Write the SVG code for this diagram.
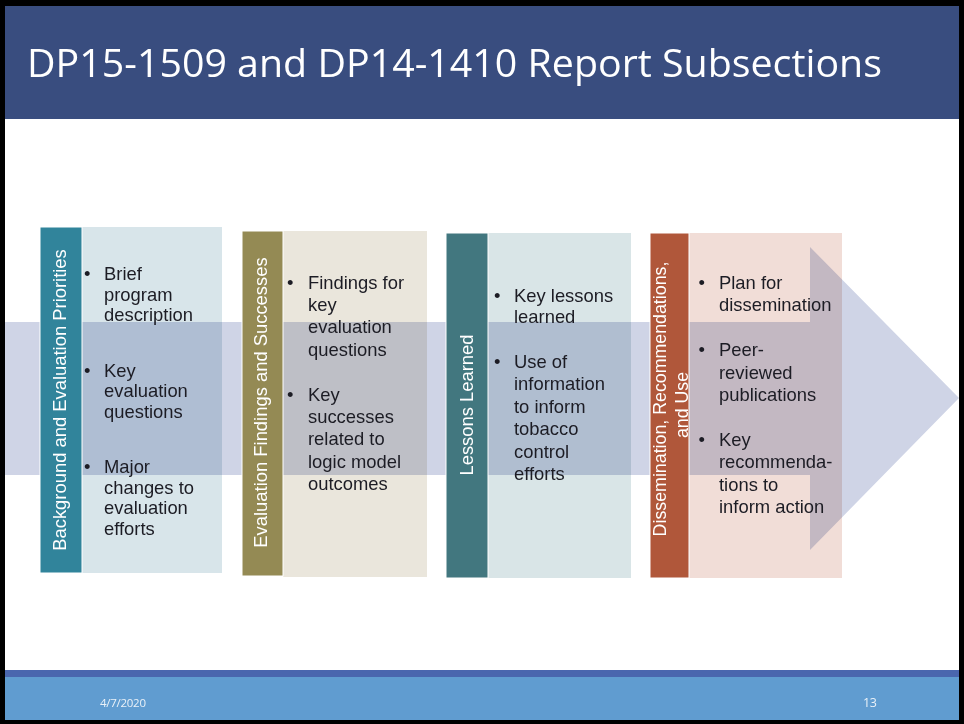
<svg xmlns="http://www.w3.org/2000/svg" width="964" height="724" viewBox="0 0 964 724">
<style>
.t{font-family:"Liberation Sans",Arial,sans-serif;font-size:18.4px;fill:#1c1c24}
.v{font-family:"Liberation Sans",Arial,sans-serif;font-size:18.4px;fill:#ffffff;text-anchor:middle}
.p{mix-blend-mode:multiply}
.bar{stroke:#ffffff;stroke-width:1}
.f{font-family:"Open Sans","Liberation Sans",sans-serif;font-size:11.5px;fill:#eaf1f8}
</style>
<rect x="0" y="0" width="964" height="724" fill="#000000"/>
<rect x="5" y="6" width="954" height="714" fill="#ffffff"/>
<g id="header">
<rect x="5" y="6" width="954" height="113" fill="#394d7f"/>
<text x="27" y="77" font-family="'Open Sans','Liberation Sans',sans-serif" font-size="38" fill="#ffffff" textLength="855" lengthAdjust="spacingAndGlyphs">DP15-1509 and DP14-1410 Report Subsections</text>
</g>
<g id="connectors">
<polygon points="5,322 810,322 810,247 959,398 810,550 810,475 5,475" fill="#cfd4e6"/>
</g>
<g id="node1">
<rect class="p" x="82" y="227" width="140" height="346" fill="#d8e5ea"/>
<rect class="bar" x="40" y="227" width="42" height="346" fill="#31849b"/>
<text class="v" transform="translate(66,400) rotate(-90)">Background and Evaluation Priorities</text>
<text class="t" x="84" y="280">•</text>
<text class="t" x="104" y="280">Brief</text>
<text class="t" x="104" y="300.5">program</text>
<text class="t" x="104" y="321">description</text>
<text class="t" x="84" y="376.5">•</text>
<text class="t" x="104" y="376.5">Key</text>
<text class="t" x="104" y="397">evaluation</text>
<text class="t" x="104" y="417.5">questions</text>
<text class="t" x="84" y="473">•</text>
<text class="t" x="104" y="473">Major</text>
<text class="t" x="104" y="493.5">changes to</text>
<text class="t" x="104" y="514">evaluation</text>
<text class="t" x="104" y="534.5">efforts</text>
</g>
<g id="node2">
<rect class="p" x="283" y="231" width="144" height="346" fill="#eae6dc"/>
<rect class="bar" x="242" y="231" width="41" height="345" fill="#948a54"/>
<text class="v" transform="translate(267,402.5) rotate(-90)">Evaluation Findings and Successes</text>
<text class="t" x="287" y="288.5">•</text>
<text class="t" x="308" y="288.5">Findings for</text>
<text class="t" x="308" y="310.9">key</text>
<text class="t" x="308" y="333.3">evaluation</text>
<text class="t" x="308" y="355.7">questions</text>
<text class="t" x="287" y="400.5">•</text>
<text class="t" x="308" y="400.5">Key</text>
<text class="t" x="308" y="422.9">successes</text>
<text class="t" x="308" y="445.3">related to</text>
<text class="t" x="308" y="467.7">logic model</text>
<text class="t" x="308" y="490.1">outcomes</text>
</g>
<g id="node3">
<rect class="p" x="488" y="233" width="143" height="345" fill="#d9e5e7"/>
<rect class="bar" x="446" y="233" width="42" height="345" fill="#42777f"/>
<text class="v" transform="translate(473,405) rotate(-90)">Lessons Learned</text>
<text class="t" x="494" y="301.5">•</text>
<text class="t" x="514" y="301.5">Key lessons</text>
<text class="t" x="514" y="323">learned</text>
<text class="t" x="494" y="368">•</text>
<text class="t" x="514" y="368">Use of</text>
<text class="t" x="514" y="390.4">information</text>
<text class="t" x="514" y="412.8">to inform</text>
<text class="t" x="514" y="435.2">tobacco</text>
<text class="t" x="514" y="457.6">control</text>
<text class="t" x="514" y="480">efforts</text>
</g>
<g id="node4">
<rect class="p" x="689" y="233" width="153" height="345" fill="#f1ddd7"/>
<rect class="bar" x="650" y="233" width="39" height="345" fill="#b0573a"/>
<text class="v" style="font-size:17.8px" transform="translate(666,399) rotate(-90)">Dissemination, Recommendations,</text>
<text class="v" style="font-size:17.8px" transform="translate(688,405) rotate(-90)">and Use</text>
<text class="t" x="698.5" y="288.5">•</text>
<text class="t" x="719" y="288.5">Plan for</text>
<text class="t" x="719" y="311">dissemination</text>
<text class="t" x="698.5" y="356">•</text>
<text class="t" x="719" y="356">Peer-</text>
<text class="t" x="719" y="378.5">reviewed</text>
<text class="t" x="719" y="401">publications</text>
<text class="t" x="698.5" y="445.5">•</text>
<text class="t" x="719" y="445.5">Key</text>
<text class="t" x="719" y="468">recommenda-</text>
<text class="t" x="719" y="490.5">tions to</text>
<text class="t" x="719" y="513">inform action</text>
</g>
<g id="footer">
<rect x="5" y="670" width="954" height="7" fill="#4a66ae"/>
<rect x="5" y="677" width="954" height="43" fill="#609cd0"/>
<text class="f" x="100" y="707" textLength="46">4/7/2020</text>
<text class="f" x="863" y="707" style="font-size:12.5px" textLength="14">13</text>
</g>
</svg>
